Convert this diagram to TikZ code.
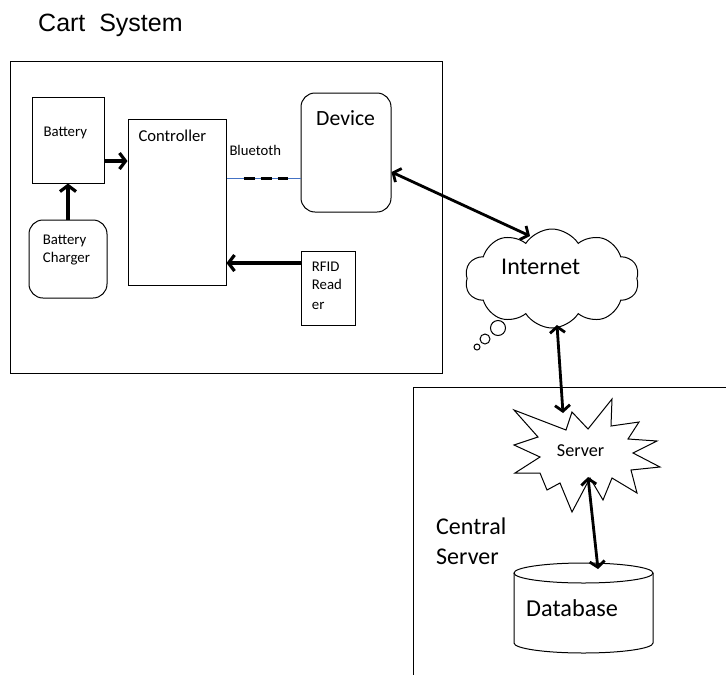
\documentclass[tikz,border=0pt]{standalone}
\usepackage{fontspec}
\setmainfont{Carlito}
\newfontfamily\arialf{Liberation Sans}
\usetikzlibrary{arrows.meta,shapes.symbols}
\definecolor{btblue}{HTML}{4472C4}
\tikzset{
  box/.style={draw,line width=1pt,inner sep=0pt},
  rbox/.style={box,rounded corners=14pt},
  conn/.style={line width=3.2pt,-{Straight Barb[length=6pt,width=16pt]}},
  bicon/.style={line width=2.8pt,{Straight Barb[length=6pt,width=15pt]}-{Straight Barb[length=6pt,width=15pt]}},
  lbl/.style={inner sep=0pt,anchor=base west},
}
\begin{document}
\begin{tikzpicture}[x=1pt,y=1pt]
\useasboundingbox (0,0) rectangle (726,-675);

% title
\node[lbl,font=\arialf\fontsize{25}{30}\selectfont] (title) at (38,-31.7) {Cart\ \ System};

% cart system frame
\draw[line width=1pt] (10,-61) rectangle (442,-373);

% boxes
\node[box,minimum width=72pt,minimum height=86pt] (bat) at (68,-140) {};
\node[rbox,minimum width=78pt,minimum height=78pt] (chg) at (68,-259) {};
\node[box,minimum width=98pt,minimum height=166pt] (ctrl) at (177,-202) {};
\node[rbox,minimum width=90pt,minimum height=119pt] (dev) at (346,-152.5) {};
\node[box,minimum width=54pt,minimum height=74pt] (rfid) at (328,-288) {};

% texts
\node[lbl,font=\fontsize{14.8}{18}\selectfont] (batT) at (43.3,-136) {Battery};
\node[lbl,font=\fontsize{14.8}{18}\selectfont] (chgT1) at (42.7,-244.3) {Battery};
\node[lbl,font=\fontsize{14.8}{18}\selectfont] (chgT2) at (42.7,-262.3) {Charger};
\node[lbl,font=\fontsize{16.6}{20}\selectfont] (ctrlT) at (138.3,-141.7) {Controller};
\node[lbl,font=\fontsize{14.7}{18}\selectfont] (btT) at (229.3,-155) {Bluetoth};
\node[lbl,font=\fontsize{21.7}{26}\selectfont] (devT) at (316,-125) {Device};
\node[lbl,font=\fontsize{14.8}{18}\selectfont] (rfidT1) at (311.7,-271.7) {RFID};
\node[lbl,font=\fontsize{14.8}{18}\selectfont] (rfidT2) at (311.7,-289.3) {Read};
\node[lbl,font=\fontsize{14.8}{18}\selectfont] (rfidT3) at (311.7,-309) {er};

% internal connectors
\draw[conn] (chg.north) -- (bat.south);
\draw[conn] ([yshift=-21pt]bat.east) -- ([yshift=41pt]ctrl.west);
\draw[conn] ([yshift=25pt]rfid.west) -- ([yshift=-61pt]ctrl.east);
\draw[btblue,line width=1pt] ([yshift=24pt]ctrl.east) -- ([yshift=-25.5pt]dev.west);
\draw[line width=3pt,dash pattern=on 11pt off 6pt,shorten <=17pt,shorten >=13pt]
  ([yshift=24pt]ctrl.east) -- ([yshift=-25.5pt]dev.west);

% internet cloud
\node[cloud,draw,line width=1pt,cloud puffs=10,cloud puff arc=115,aspect=1.76,
      minimum width=174pt,minimum height=99pt,inner sep=0pt] (inet) at (552,-278.5) {};
\node[lbl,font=\fontsize{24}{29}\selectfont] (inetT) at (501,-274) {Internet};
\draw[line width=1pt] (498,-328) circle[radius=7.5pt];
\draw[line width=1pt] (485,-339) circle[radius=5pt];
\draw[line width=1pt] (477,-347) circle[radius=3pt];

% central server frame
\draw[line width=1pt] (726,-387) -- (413,-387) -- (413,-675);
\node[lbl,font=\fontsize{24}{29}\selectfont] (csT1) at (436,-534) {Central};
\node[lbl,font=\fontsize{24}{29}\selectfont] (csT2) at (436,-564) {Server};

% server starburst
\draw[line width=1pt,fill=white]
  (514,-410) -- (566,-430) -- (572,-412) -- (588,-429) -- (612,-399) -- (611,-426)
  -- (639,-422) -- (628,-439) -- (657,-441) -- (633,-453) -- (660,-467) -- (631,-470)
  -- (637,-493) -- (612,-478) -- (603,-500) -- (590,-478) -- (572,-512) -- (560,-483)
  -- (547,-490) -- (540,-473) -- (515,-473) -- (540,-457) -- (514,-445) -- (538,-437) -- cycle;
\node[lbl,font=\fontsize{18.2}{22}\selectfont] (srvT) at (556.7,-456) {Server};

% database cylinder
\draw[line width=1pt] (514,-573) -- (514,-643)
  arc[start angle=180,end angle=360,x radius=69.5pt,y radius=10pt] -- (653,-573);
\draw[line width=1pt] (583.5,-573) ellipse[x radius=69.5pt,y radius=10pt];
\node[lbl,font=\fontsize{24.3}{29}\selectfont] (dbT) at (526,-616) {Database};

% connector end points
\coordinate (inetA) at (530,-236);
\coordinate (inetB) at (557,-325);
\coordinate (srvA) at (563,-413);
\coordinate (srvB) at (588,-477);
\coordinate (dbA) at (598,-569);

\draw[bicon] ([yshift=-19.5pt]dev.east) -- (inetA);
\draw[bicon] (inetB) -- (srvA);
\draw[bicon] (srvB) -- (dbA);
\end{tikzpicture}
\end{document}
